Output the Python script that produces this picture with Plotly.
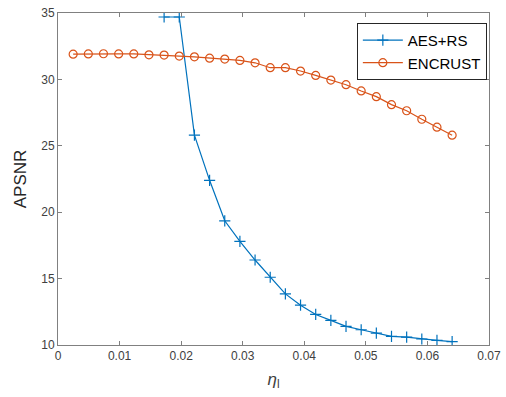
import plotly.graph_objects as go

step = 0.002462
idx = list(range(1, 27))
eta = [round(k * step, 6) for k in idx]

encrust = [31.9, 31.92, 31.93, 31.92, 31.92, 31.85, 31.83, 31.76, 31.7, 31.6,
           31.53, 31.43, 31.25, 30.88, 30.88, 30.63, 30.3, 29.95, 29.6, 29.13,
           28.7, 28.1, 27.64, 27.0, 26.4, 25.8]

aes_eta = eta[6:]
aes_rs = [34.7, 34.7, 25.8, 22.4, 19.35, 17.8, 16.4, 15.1, 13.85, 13.0,
          12.3, 11.85, 11.4, 11.15, 10.9, 10.65, 10.6, 10.45, 10.35, 10.25]

x_ticks = [0, 0.01, 0.02, 0.03, 0.04, 0.05, 0.06, 0.07]
x_labels = ["0", "0.01", "0.02", "0.03", "0.04", "0.05", "0.06", "0.07"]
y_ticks = [10, 15, 20, 25, 30, 35]

blue = "#0072BD"
orange = "#D95319"
font = "Liberation Sans, Arial, sans-serif"

fig = go.Figure()
fig.add_trace(go.Scatter(
    x=aes_eta, y=aes_rs, name="AES+RS", mode="lines+markers",
    line=dict(color=blue, width=1.2),
    marker=dict(symbol="cross-thin", size=8, line=dict(color=blue, width=1.2)),
))
fig.add_trace(go.Scatter(
    x=eta, y=encrust, name="ENCRUST", mode="lines+markers",
    line=dict(color=orange, width=1.2),
    marker=dict(symbol="circle-open", size=8, color=orange, line=dict(color=orange, width=1.2)),
))

axis_common = dict(
    showgrid=False, zeroline=False, showline=True, linecolor="#808080", linewidth=1,
    mirror="ticks", ticks="inside", ticklen=4, tickcolor="#808080",
    tickfont=dict(family=font, size=12, color="#404040"), automargin=False,
    ticklabeloverflow="allow",
)
fig.update_xaxes(range=[0, 0.07], tickvals=x_ticks, ticktext=x_labels,
                 title=dict(text="<i>η</i><sub>l</sub>", font=dict(family=font, size=17, color="#404040"), standoff=10),
                 **axis_common)
fig.update_yaxes(range=[10, 35], tickvals=y_ticks,
                 title=dict(text="APSNR", font=dict(family=font, size=17, color="#262626"), standoff=10),
                 **axis_common)

fig.update_layout(
    width=506, height=397,
    margin=dict(l=58, r=17, t=13, b=52),
    paper_bgcolor="white", plot_bgcolor="white",
    showlegend=True,
    legend=dict(x=0.995, y=0.97, xanchor="right", yanchor="top",
                bgcolor="white", bordercolor="#262626", borderwidth=1,
                font=dict(family=font, size=15, color="#000000"),
                tracegroupgap=0, itemwidth=40),
)
fig.write_html("out.html", config={"displayModeBar": False},
               post_script="document.body.style.margin='0';document.body.style.overflow='hidden';")
